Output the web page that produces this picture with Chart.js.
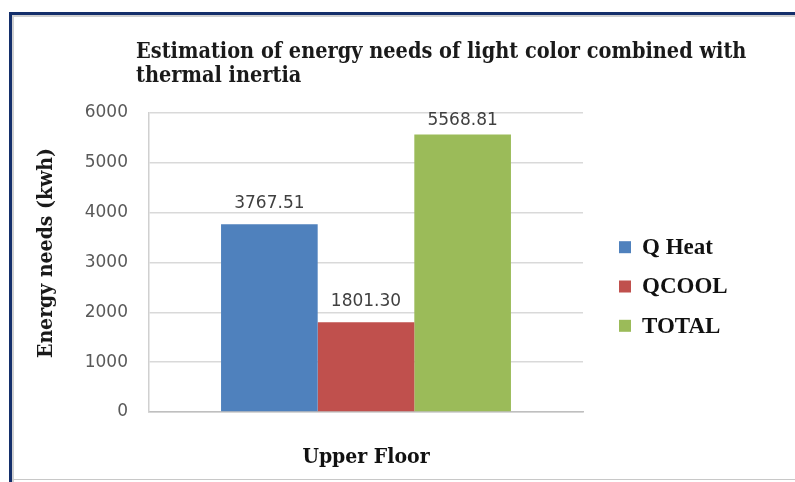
<!DOCTYPE html>
<html>
<head>
<meta charset="utf-8">
<script src="https://cdn.jsdelivr.net/npm/chart.js@4.4.0/dist/chart.umd.min.js"></script>
<style>
  html, body { margin: 0; padding: 0; background: #fff; }
  #wrap { position: absolute; left: 0; top: 0; width: 795px; height: 482px; }
</style>
</head>
<body>
<div id="wrap"><canvas id="chart" width="795" height="482"></canvas></div>
<script>
const categories = ['Upper Floor'];
const seriesNames = ['Q Heat', 'QCOOL', 'TOTAL'];
const qHeat = [3767.51];
const qCool = [1801.30];
const total = [5568.81];
const yTicks = [0, 1000, 2000, 3000, 4000, 5000, 6000];
const titleLines = ['Estimation of energy needs of light color combined with', 'thermal inertia'];
const yTitle = 'Energy needs (kwh)';

const colors = ['#4f81bd', '#c0504d', '#9bbb59'];
const serifCond = '"DejaVu Serif Condensed", "DejaVu Serif", serif';

/** frame, title, y title, value labels and legend */
const decor = {
  id: 'decor',
  beforeDraw(chart) {
    const { ctx } = chart;
    ctx.save();
    ctx.fillStyle = '#fff';
    ctx.fillRect(0, 0, chart.width, chart.height);
    // soft shadow then navy frame
    ctx.fillStyle = '#d0d0d0';
    ctx.fillRect(12, 15, chart.width, 2);
    ctx.fillRect(12, 15, 2, chart.height);
    ctx.fillStyle = '#142f6b';
    ctx.fillRect(9, 12, chart.width, 3);
    ctx.fillRect(9, 12, 3, chart.height);
    ctx.fillStyle = '#c8c8c8';
    ctx.fillRect(12, 479, chart.width, 1);
    ctx.restore();
  },
  afterDraw(chart) {
    const { ctx, chartArea } = chart;
    ctx.save();
    // title
    ctx.fillStyle = '#1a1a1a';
    ctx.font = 'bold 21.5px ' + serifCond;
    ctx.textAlign = 'left';
    ctx.textBaseline = 'alphabetic';
    ctx.fillText(titleLines[0], 136, 58);
    ctx.fillText(titleLines[1], 136, 82);

    // y axis title
    ctx.save();
    ctx.translate(47, 253);
    ctx.rotate(-Math.PI / 2);
    ctx.textAlign = 'center';
    ctx.textBaseline = 'middle';
    ctx.font = 'bold 21px ' + serifCond;
    ctx.fillText(yTitle, 0, 0);
    ctx.restore();

    // value labels (kept inside the plot area, like Excel does)
    ctx.font = '17px "DejaVu Sans", sans-serif';
    ctx.fillStyle = '#404040';
    ctx.textAlign = 'center';
    ctx.textBaseline = 'middle';
    chart.data.datasets.forEach((ds, i) => {
      chart.getDatasetMeta(i).data.forEach((bar, j) => {
        const y = Math.max(bar.y - 21, chartArea.top + 8);
        ctx.fillText(ds.data[j].toFixed(2), bar.x, y);
      });
    });

    // legend
    ctx.font = 'bold 23px "Liberation Serif", serif';
    ctx.textAlign = 'left';
    ctx.textBaseline = 'middle';
    const cy = 286.5;
    chart.data.datasets.forEach((ds, i) => {
      const y = cy + (i - 1) * 39.3;
      ctx.fillStyle = ds.backgroundColor;
      ctx.fillRect(chartArea.right + 36, y - 6, 12, 12);
      ctx.fillStyle = '#111';
      ctx.fillText(ds.label, chartArea.right + 59, y + 1);
    });
    ctx.restore();
  }
};

new Chart(document.getElementById('chart'), {
  type: 'bar',
  data: {
    labels: categories,
    datasets: [
      { label: seriesNames[0], data: qHeat, backgroundColor: colors[0] },
      { label: seriesNames[1], data: qCool, backgroundColor: colors[1] },
      { label: seriesNames[2], data: total, backgroundColor: colors[2] },
    ],
  },
  options: {
    responsive: false,
    animation: false,
    devicePixelRatio: 1,
    layout: { padding: { left: 0, top: 113, right: 212, bottom: 0 } },
    datasets: { bar: { categoryPercentage: 0.668, barPercentage: 1.0, borderWidth: 0 } },
    plugins: {
      legend: { display: false },
      title: { display: false },
      tooltip: { enabled: false },
    },
    scales: {
      x: {
        grid: { display: false, drawTicks: false },
        border: { color: '#bfbfbf', width: 1.5 },
        ticks: {
          color: '#111',
          padding: 33,
          font: { family: serifCond, size: 21, weight: 'bold' },
        },
        afterFit(scale) { scale.height = 70; },
      },
      y: {
        min: 0,
        max: 6000,
        afterBuildTicks(scale) { scale.ticks = yTicks.map(v => ({ value: v })); },
        grid: { color: '#d9d9d9', drawTicks: false, lineWidth: 1.5 },
        border: { color: '#d0d0d0', width: 1.5 },
        ticks: {
          color: '#595959',
          padding: 21,
          font: { family: '"DejaVu Sans", sans-serif', size: 17 },
          callback: v => String(v),
        },
        afterFit(scale) { scale.width = 149; },
      },
    },
  },
  plugins: [decor],
});
</script>
</body>
</html>
